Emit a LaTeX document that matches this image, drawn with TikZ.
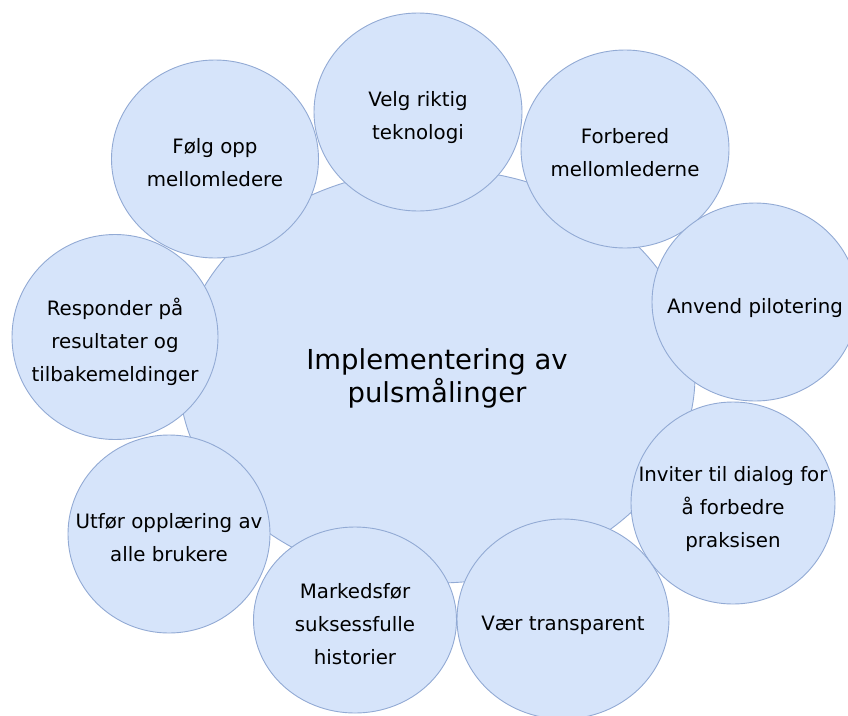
\documentclass[tikz,border=0pt]{standalone}
\usepackage{fontspec}
\setmainfont{DejaVu Sans}
\usetikzlibrary{shapes.geometric}
\definecolor{bubblefill}{RGB}{214,228,250}
\definecolor{bubbleline}{RGB}{146,170,212}
\newcommand{\bubblestrut}{\rule{0pt}{28pt}}

\begin{document}
\begin{tikzpicture}[x=1pt,y=-1pt,font=\fontsize{19.8}{33}\selectfont]
% Node styles: bubbles and the texts set in them
\tikzstyle{bubble}=[ellipse,draw=bubbleline,fill=bubblefill,line width=0.9pt,inner sep=0];
\tikzstyle{big bubble}=[bubble,minimum width=516pt,minimum height=414pt];
\tikzstyle{small bubble}=[bubble,minimum width=206pt,minimum height=198pt];
\tikzstyle{big text}=[align=center,inner sep=0,font=\fontsize{27.5}{33}\selectfont,
  execute at end node={\rule[-8pt]{0pt}{8pt}}];
\tikzstyle{small text}=[align=center,inner sep=0,
  execute at end node={\rule[-6pt]{0pt}{6pt}}];
% Page size of the picture
\useasboundingbox (0,0) rectangle (848,715);
% The centre
\node(0)[big bubble] at (437,376) {};
\node(0t)[big text] at (0) {\bubblestrut Implementering av\\pulsmålinger};
% The bubbles round it, clockwise from the top
\node(1)[small bubble,minimum width=208pt] at (418,112) {};
\node(1t)[small text] at (1) {\bubblestrut Velg riktig\\teknologi};
\node(2)[small bubble,minimum width=208pt] at (625,149) {};
\node(2t)[small text] at (2) {\bubblestrut Forbered\\mellomlederne};
\node(3)[small bubble] at (755,302) {};
\node(3t)[small text] at (3) {\bubblestrut Anvend pilotering};
\node(4)[small bubble,minimum width=204pt,minimum height=202pt] at (733,503) {};
\node(4t)[small text] at (4) {\bubblestrut Inviter til dialog for\\å forbedre\\praksisen};
\node(5)[small bubble,minimum width=212pt,minimum height=200pt] at (563,619) {};
\node(5t)[small text] at (5) {\bubblestrut Vær transparent};
\node(6)[small bubble,minimum width=203pt,minimum height=186pt] at (355,620) {};
\node(6t)[small text] at (6) {\bubblestrut Markedsfør\\suksessfulle\\historier};
\node(7)[small bubble,minimum width=202pt] at (169,534) {};
\node(7t)[small text] at (7) {\bubblestrut Utfør opplæring av\\alle brukere};
\node(8)[small bubble,minimum height=205pt] at (115,337) {};
\node(8t)[small text] at (8) {\bubblestrut Responder på\\resultater og\\tilbakemeldinger};
\node(9)[small bubble,minimum width=207pt] at (215,159) {};
\node(9t)[small text] at (9) {\bubblestrut Følg opp\\mellomledere};
\end{tikzpicture}
\end{document}
